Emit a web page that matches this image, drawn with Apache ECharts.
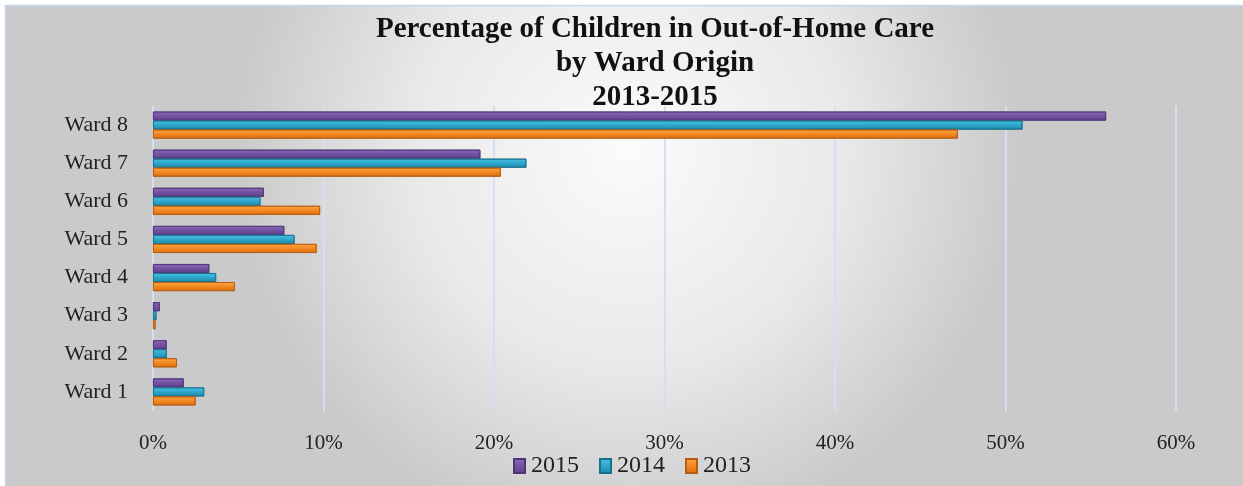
<!DOCTYPE html>
<html>
<head>
<meta charset="utf-8">
<script src="https://cdn.jsdelivr.net/npm/echarts@6/dist/echarts.min.js"></script>
<style>
  html, body { margin: 0; padding: 0; background: #fff; }
  #chart { width: 1243px; height: 486px; }
</style>
</head>
<body>
<div id="chart"></div>
<script>
// Wards listed bottom-to-top along the category axis
const wards = ['Ward 1', 'Ward 2', 'Ward 3', 'Ward 4', 'Ward 5', 'Ward 6', 'Ward 7', 'Ward 8'];

// Share of children in out-of-home care (%) by ward of origin
const pct2015 = [1.8, 0.8, 0.4, 3.3, 7.7, 6.5, 19.2, 55.9];
const pct2014 = [3.0, 0.8, 0.2, 3.7, 8.3, 6.3, 21.9, 51.0];
const pct2013 = [2.5, 1.4, 0.15, 4.8, 9.6, 9.8, 20.4, 47.2];

const xTicks = [0, 10, 20, 30, 40, 50, 60];

const serif = '"Liberation Serif", "DejaVu Serif", serif';

function shade(top, mid, bottom) {
  return new echarts.graphic.LinearGradient(0, 0, 0, 1, [
    { offset: 0, color: top },
    { offset: 0.45, color: mid },
    { offset: 1, color: bottom }
  ]);
}

const styles = {
  '2015': { fill: shade('#8a6bb5', '#7553a3', '#5e3f8a'), edge: '#4f3478' },
  '2014': { fill: shade('#4cc0e0', '#2faacf', '#1e87a8'), edge: '#17708c' },
  '2013': { fill: shade('#ffa54a', '#f58b24', '#d96f12'), edge: '#b85c0c' }
};

function barSeries(name, values) {
  return {
    name: name,
    type: 'bar',
    data: values,
    barWidth: 9,
    barGap: '0%',
    barCategoryGap: '28%',
    itemStyle: {
      color: styles[name].fill,
      borderColor: styles[name].edge,
      borderWidth: 0.8
    }
  };
}

const chart = echarts.init(document.getElementById('chart'));
chart.setOption({
  backgroundColor: '#ffffff',
  graphic: [{
    type: 'rect',
    silent: true,
    z: -10,
    shape: { x: 5.5, y: 5.5, width: 1243, height: 486 },
    style: {
      fill: new echarts.graphic.RadialGradient(0.5, 0.3, 0.8, [
        { offset: 0, color: '#fbfbfb' },
        { offset: 0.55, color: '#e9e9e9' },
        { offset: 1, color: '#cacaca' }
      ]),
      stroke: '#c5d6ee',
      lineWidth: 1.5
    }
  }],
  title: {
    text: 'Percentage of Children in Out-of-Home Care\nby Ward Origin\n2013-2015',
    left: 650,
    textAlign: 'center',
    top: 8,
    textStyle: {
      fontFamily: serif,
      fontWeight: 'bold',
      fontSize: 29,
      lineHeight: 34,
      color: '#111'
    }
  },
  legend: {
    data: ['2015', '2014', '2013'],
    bottom: 3,
    left: 508,
    itemWidth: 11,
    itemHeight: 14,
    itemGap: 20,
    icon: 'rect',
    textStyle: { fontFamily: serif, fontSize: 24, color: '#222', padding: [0, 0, 0, 1] }
  },
  grid: { left: 153, right: 67, top: 106, bottom: 75 },
  xAxis: {
    type: 'value',
    min: xTicks[0],
    max: xTicks[xTicks.length - 1],
    interval: 10,
    axisLine: { show: false },
    axisTick: { show: false },
    axisLabel: {
      formatter: '{value}%',
      fontFamily: serif,
      fontSize: 21,
      color: '#222',
      margin: 22
    },
    splitLine: { lineStyle: { color: '#d3e0f2', width: 2 } }
  },
  yAxis: {
    type: 'category',
    data: wards,
    axisLine: { show: false },
    axisTick: { show: false },
    axisLabel: { fontFamily: serif, fontSize: 22, color: '#222', margin: 25 }
  },
  series: [
    barSeries('2015', pct2015),
    barSeries('2014', pct2014),
    barSeries('2013', pct2013)
  ]
});
</script>
</body>
</html>
